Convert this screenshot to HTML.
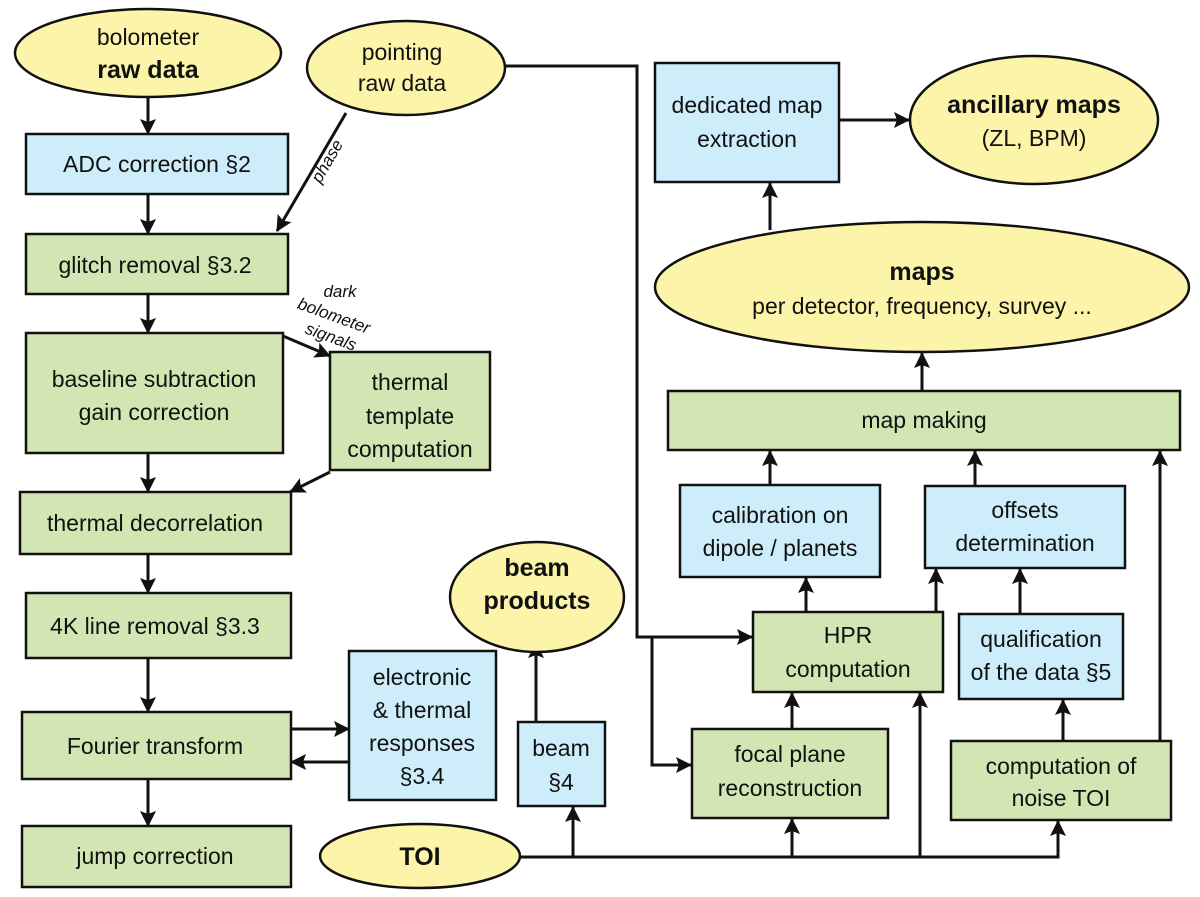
<!DOCTYPE html>
<html><head><meta charset="utf-8"><style>
html,body{margin:0;padding:0;background:#fff}
svg{display:block}
text{font-family:"Liberation Sans",sans-serif;font-size:23px;fill:#111;text-anchor:middle}
.b{font-weight:bold}
.y{fill:#fbf4a9;stroke:#111;stroke-width:2.5}
.c{fill:#cdedfb;stroke:#111;stroke-width:2.5}
.g{fill:#d2e6b4;stroke:#111;stroke-width:2.5}
.l{fill:none;stroke:#111;stroke-width:3}
.s{font-size:17px;font-style:italic}
</style></head><body>
<svg width="1200" height="897" viewBox="0 0 1200 897" xmlns="http://www.w3.org/2000/svg">
<defs>
<marker id="A" markerWidth="16" markerHeight="16" refX="15" refY="8" orient="auto" markerUnits="userSpaceOnUse" viewBox="0 0 16 16"><path d="M0,0 L16,8 L0,16 L3,8 z" fill="#111"/></marker></defs>

<g class="l" marker-end="url(#A)">
<path d="M148,97 V134"/>
<path d="M148,194 V234"/>
<path d="M148,294 V333"/>
<path d="M148,453 V492"/>
<path d="M148,554 V593"/>
<path d="M148,658 V712"/>
<path d="M148,779 V826"/>
<path d="M346,113 L277,231"/>
<path d="M283,336 L330,356"/>
<path d="M330,472 L290,492"/>
<path d="M291,729 H349"/>
<path d="M349,762 H291"/>
<path d="M505,66 H637 V637 H752"/>
<path d="M637,637 H652 V765 H691"/>
<path d="M520,857 H1058 V821"/>
<path d="M573,857 V807"/>
<path d="M792,857 V819"/>
<path d="M920,857 V693"/>
<path d="M536,722 V643"/>
<path d="M792,729 V693"/>
<path d="M806,612 V578"/>
<path d="M936,612 V569"/>
<path d="M1020,614 V569"/>
<path d="M1063,741 V700"/>
<path d="M1160,741 V451"/>
<path d="M770,485 V451"/>
<path d="M975,486 V451"/>
<path d="M922,391 V353"/>
<path d="M770,230 V183"/>
<path d="M839,120 H909"/>
</g>

<ellipse class="y" cx="148" cy="53" rx="133" ry="44"/>
<text x="148" y="45">bolometer</text><text class="b" x="148" y="78" style="font-size:25px">raw data</text>
<ellipse class="y" cx="406" cy="68" rx="99" ry="47"/>
<text x="402" y="60">pointing</text><text x="402" y="91">raw data</text>
<text class="s" transform="translate(332,164) rotate(-60)">phase</text>
<text class="s" x="340" y="297">dark</text><text class="s" transform="translate(332,321) rotate(20)">bolometer</text><text class="s" transform="translate(329,342) rotate(20)">signals</text>

<rect class="c" x="26" y="134" width="262" height="60"/><text x="157" y="172">ADC correction §2</text>
<rect class="g" x="26" y="234" width="262" height="60"/><text x="155" y="273">glitch removal §3.2</text>
<rect class="g" x="26" y="333" width="257" height="120"/><text x="154" y="387">baseline subtraction</text><text x="154" y="420">gain correction</text>
<rect class="g" x="330" y="352" width="160" height="118"/><text x="410" y="390">thermal</text><text x="410" y="424">template</text><text x="410" y="457">computation</text>
<rect class="g" x="20" y="492" width="271" height="62"/><text x="155" y="531">thermal decorrelation</text>
<rect class="g" x="26" y="593" width="265" height="65"/><text x="155" y="634">4K line removal §3.3</text>
<rect class="g" x="22" y="712" width="269" height="67"/><text x="155" y="754">Fourier transform</text>
<rect class="c" x="349" y="651" width="147" height="149"/><text x="422" y="685">electronic</text><text x="422" y="718">&amp; thermal</text><text x="422" y="751">responses</text><text x="422" y="784">§3.4</text>
<rect class="g" x="22" y="826" width="269" height="61"/><text x="155" y="864">jump correction</text>
<ellipse class="y" cx="420" cy="856" rx="100" ry="32"/><text class="b" x="420" y="865" style="font-size:25px">TOI</text>
<rect class="c" x="518" y="722" width="87" height="84"/><text x="561" y="756">beam</text><text x="561" y="790">§4</text>
<ellipse class="y" cx="537" cy="597" rx="87" ry="55"/><text class="b" x="537" y="576" style="font-size:25px">beam</text><text class="b" x="537" y="609" style="font-size:25px">products</text>
<rect class="g" x="692" y="729" width="196" height="89"/><text x="790" y="762">focal plane</text><text x="790" y="796">reconstruction</text>
<rect class="g" x="753" y="612" width="190" height="80"/><text x="848" y="643">HPR</text><text x="848" y="677">computation</text>
<rect class="c" x="680" y="485" width="200" height="92"/><text x="780" y="523">calibration on</text><text x="780" y="556">dipole / planets</text>
<rect class="c" x="925" y="486" width="200" height="82"/><text x="1025" y="518">offsets</text><text x="1025" y="551">determination</text>
<rect class="c" x="959" y="614" width="164" height="85"/><text x="1041" y="647">qualification</text><text x="1041" y="680">of the data §5</text>
<rect class="g" x="951" y="741" width="220" height="79"/><text x="1061" y="774">computation of</text><text x="1061" y="806">noise TOI</text>
<rect class="g" x="668" y="391" width="512" height="59"/><text x="924" y="428">map making</text>
<ellipse class="y" cx="922" cy="287" rx="267" ry="65"/><text class="b" x="922" y="280" style="font-size:25px">maps</text><text x="922" y="314">per detector, frequency, survey ...</text>
<rect class="c" x="655" y="63" width="184" height="119"/><text x="747" y="113">dedicated map</text><text x="747" y="147">extraction</text>
<ellipse class="y" cx="1034" cy="120" rx="124" ry="64"/><text class="b" x="1034" y="113" style="font-size:25px">ancillary maps</text><text x="1034" y="146">(ZL, BPM)</text>
</svg>
</body></html>
